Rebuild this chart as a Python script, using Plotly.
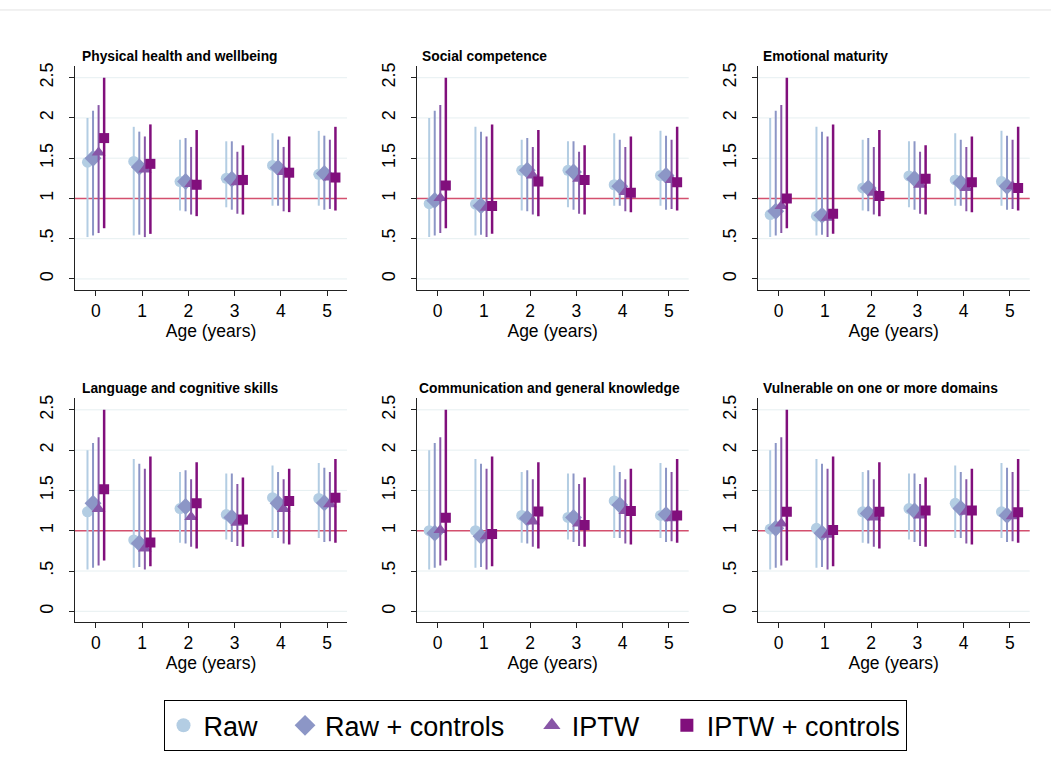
import plotly.graph_objects as go

# ---------------- data ----------------
ages = [0, 1, 2, 3, 4, 5]
series_names = ["Raw", "Raw + controls", "IPTW", "IPTW + controls"]
panel_titles = [
    "Physical health and wellbeing",
    "Social competence",
    "Emotional maturity",
    "Language and cognitive skills",
    "Communication and general knowledge",
    "Vulnerable on one or more domains",
]

# confidence intervals (identical in every panel of the original)
raw_lo = [0.52, 0.54, 0.85, 0.89, 0.91, 0.91]
raw_hi = [2.00, 1.89, 1.73, 1.71, 1.81, 1.84]
rawc_lo = [0.54, 0.55, 0.84, 0.86, 0.91, 0.86]
rawc_hi = [2.09, 1.83, 1.75, 1.71, 1.73, 1.78]
iptw_lo = [0.57, 0.52, 0.80, 0.81, 0.84, 0.87]
iptw_hi = [2.16, 1.77, 1.64, 1.58, 1.64, 1.73]
iptwc_lo = [0.63, 0.56, 0.78, 0.80, 0.83, 0.85]
iptwc_hi = [2.50, 1.92, 1.85, 1.66, 1.77, 1.89]

# point estimates per panel: Raw, Raw + controls, IPTW, IPTW + controls
physical_raw = [1.45, 1.46, 1.21, 1.25, 1.41, 1.30]
physical_rawc = [1.50, 1.39, 1.21, 1.24, 1.38, 1.31]
physical_iptw = [1.57, 1.36, 1.18, 1.20, 1.33, 1.26]
physical_iptwc = [1.75, 1.43, 1.17, 1.23, 1.32, 1.26]

social_raw = [0.935, 0.93, 1.35, 1.35, 1.17, 1.285]
social_rawc = [0.976, 0.91, 1.35, 1.33, 1.15, 1.285]
social_iptw = [1.005, 0.885, 1.285, 1.245, 1.08, 1.23]
social_iptwc = [1.16, 0.905, 1.21, 1.23, 1.07, 1.20]

emotional_raw = [0.80, 0.78, 1.13, 1.28, 1.23, 1.21]
emotional_rawc = [0.84, 0.79, 1.13, 1.245, 1.195, 1.15]
emotional_iptw = [0.905, 0.76, 1.07, 1.17, 1.13, 1.15]
emotional_iptwc = [1.00, 0.81, 1.03, 1.245, 1.20, 1.13]

language_raw = [1.235, 0.885, 1.275, 1.20, 1.41, 1.40]
language_rawc = [1.34, 0.845, 1.30, 1.165, 1.34, 1.345]
language_iptw = [1.27, 0.78, 1.17, 1.10, 1.27, 1.33]
language_iptwc = [1.515, 0.855, 1.34, 1.14, 1.37, 1.41]

communication_raw = [1.00, 1.00, 1.19, 1.165, 1.37, 1.19]
communication_rawc = [0.97, 0.93, 1.155, 1.165, 1.32, 1.20]
communication_iptw = [1.01, 0.93, 1.115, 1.09, 1.245, 1.155]
communication_iptwc = [1.16, 0.96, 1.24, 1.07, 1.245, 1.19]

vulnerable_raw = [1.02, 1.03, 1.235, 1.275, 1.34, 1.235]
vulnerable_rawc = [1.03, 0.97, 1.215, 1.245, 1.275, 1.19]
vulnerable_iptw = [1.09, 0.95, 1.165, 1.19, 1.235, 1.18]
vulnerable_iptwc = [1.235, 1.01, 1.235, 1.25, 1.25, 1.23]

y_ticks = [0, 0.5, 1, 1.5, 2, 2.5]
y_tick_labels = ["0", ".5", "1", "1.5", "2", "2.5"]
reference_value = 1

# ---------------- styling ----------------
panels = [
    [physical_raw, physical_rawc, physical_iptw, physical_iptwc],
    [social_raw, social_rawc, social_iptw, social_iptwc],
    [emotional_raw, emotional_rawc, emotional_iptw, emotional_iptwc],
    [language_raw, language_rawc, language_iptw, language_iptwc],
    [communication_raw, communication_rawc, communication_iptw, communication_iptwc],
    [vulnerable_raw, vulnerable_rawc, vulnerable_iptw, vulnerable_iptwc],
]
ci_lows = [raw_lo, rawc_lo, iptw_lo, iptwc_lo]
ci_highs = [raw_hi, rawc_hi, iptw_hi, iptwc_hi]

colors = ["#b3cde3", "#8c96c6", "#8856a7", "#810f7c"]
symbols = ["circle", "diamond", "triangle-up", "square"]
sizes = [11, 13, 12, 10]
legend_sizes = [14, 16, 15, 13]
bar_widths = [2, 2, 2, 2.5]
offsets = [-0.18, -0.06, 0.06, 0.18]
legend_pad = ["\u00a0\u00a0\u00a0", "\u00a0\u00a0\u00a0", "\u00a0\u00a0\u00a0", ""]

W, H = 1051, 769
col_px = [(75, 347), (416.7, 688.7), (757.7, 1029.7)]
row_px = [(63.3, 288), (396.7, 621.7)]
title_x_px = [80, 420, 761, 80, 417, 761]
title_y_px = [54, 387]

FONT = "Liberation Sans, Arial, sans-serif"
fig = go.Figure()

layout_axes = {}
annotations = []
shapes = []
for p in range(6):
    r, c = divmod(p, 3)
    idx = "" if p == 0 else str(p + 1)
    xa, ya = "x" + idx, "y" + idx
    for s in range(4):
        vals = panels[p][s]
        xs = [a + offsets[s] for a in ages]
        fig.add_trace(go.Scatter(
            x=xs, y=vals, mode="markers", xaxis=xa, yaxis=ya,
            name=series_names[s], legendgroup=series_names[s],
            showlegend=False,
            marker=dict(color=colors[s], symbol=symbols[s], size=sizes[s], line=dict(width=0)),
            error_y=dict(type="data", symmetric=False,
                         array=[h - v for h, v in zip(ci_highs[s], vals)],
                         arrayminus=[v - l for l, v in zip(ci_lows[s], vals)],
                         color=colors[s], thickness=bar_widths[s], width=0),
        ))
    x0, x1 = col_px[c]
    y0, y1 = row_px[r]
    layout_axes["xaxis" + idx] = dict(
        domain=[x0 / W, x1 / W], range=[-0.45, 5.43], anchor=ya,
        tickvals=ages, ticktext=[str(a) for a in ages],
        showline=True, linecolor="#222", linewidth=1, ticks="outside", ticklen=5,
        tickcolor="#222", showgrid=False, zeroline=False,
        tickfont=dict(family=FONT, size=17.5, color="#000"),
        title=dict(text="Age (years)", font=dict(family=FONT, size=17.5, color="#000"), standoff=0),
    )
    layout_axes["yaxis" + idx] = dict(
        domain=[1 - y1 / H, 1 - y0 / H], range=[-0.136, 2.645], anchor=xa,
        tickvals=y_ticks, ticktext=y_tick_labels, tickangle=-90,
        showline=True, linecolor="#222", linewidth=1, ticks="outside", ticklen=5,
        tickcolor="#222", showgrid=False, zeroline=False,
        tickfont=dict(family=FONT, size=18, color="#000"), ticklabelstandoff=9,
    )
    # light grid lines, then the reference line on top of them (all below the data)
    for t in y_ticks:
        shapes.append(dict(type="line", xref=xa + " domain", yref=ya, x0=0, x1=1, y0=t, y1=t,
                           line=dict(color="#e6eff1", width=1), layer="below"))
    shapes.append(dict(type="line", xref=xa + " domain", yref=ya, x0=0, x1=1,
                       y0=reference_value, y1=reference_value,
                       line=dict(color="#d4506e", width=1.5), layer="below"))
    annotations.append(dict(text="<b>" + panel_titles[p] + "</b>", xref="paper", yref="paper",
                            x=title_x_px[p] / W, y=1 - title_y_px[r] / H, xanchor="left",
                            yanchor="middle", showarrow=False,
                            font=dict(family=FONT, size=13.8, color="#000")))

# legend-only entries (larger symbols, as in the original key)
for s in range(4):
    fig.add_trace(go.Scatter(
        x=[None], y=[None], mode="markers", name=series_names[s] + legend_pad[s],
        legendgroup=series_names[s], showlegend=True,
        marker=dict(color=colors[s], symbol=symbols[s], size=legend_sizes[s], line=dict(width=0)),
    ))

shapes.append(dict(type="line", xref="paper", yref="paper", x0=0, x1=1, y0=1 - 7 / H, y1=1 - 7 / H,
                   line=dict(color="#e3e3e3", width=1)))

fig.update_layout(
    width=W, height=H, margin=dict(l=0, r=0, t=0, b=0),
    paper_bgcolor="white", plot_bgcolor="white",
    showlegend=True,
    legend=dict(orientation="h", x=535 / W, xanchor="center", y=1 - 700 / H, yanchor="top",
                bordercolor="#000", borderwidth=1, bgcolor="white",
                font=dict(family=FONT, size=27, color="#000"), itemsizing="trace"),
    annotations=annotations, shapes=shapes,
    **layout_axes,
)

fig.write_html("out.html")
